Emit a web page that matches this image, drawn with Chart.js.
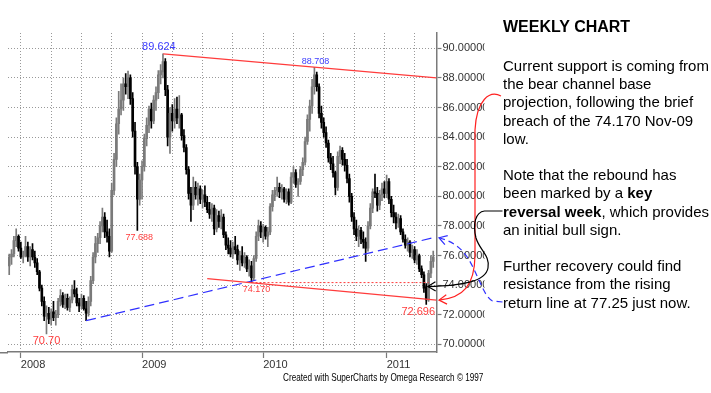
<!DOCTYPE html>
<html><head><meta charset="utf-8">
<script src="https://cdn.jsdelivr.net/npm/chart.js@4.4.1/dist/chart.umd.min.js"></script>
<style>
html,body{margin:0;padding:0;background:#fff;}
#wrap{position:relative;width:711px;height:393px;overflow:hidden;background:#fff;}
#c{position:absolute;left:0;top:0;}
#title{position:absolute;left:503px;top:18px;font:bold 16px "Liberation Sans",Arial,sans-serif;line-height:18px;color:#000;white-space:nowrap;}
#body{position:absolute;left:503px;top:57px;font:15px "Liberation Sans",Arial,sans-serif;line-height:18.2px;color:#000;white-space:nowrap;}
#credit{position:absolute;left:283px;top:371px;font:10.5px "Liberation Sans",Arial,sans-serif;line-height:12px;color:#000;white-space:nowrap;transform:scaleX(0.78);transform-origin:0 0;}
</style></head>
<body><div id="wrap">
<canvas id="c" width="711" height="393"></canvas>
<div id="title">WEEKLY CHART</div>
<div id="body">Current support is coming from<br>the bear channel base<br>projection, following the brief<br>breach of the 74.170 Nov-09<br>low.<br><br>Note that the rebound has<br>been marked by a <b>key</b><br><b>reversal week</b>, which provides<br>an initial bull sign.<br><br>Further recovery could find<br>resistance from the rising<br>return line at 77.25 just now.</div>
<div id="credit">Created with SuperCharts by Omega Research &copy; 1997</div>
</div>
<script>
// Weekly bars, index 0 = last week of Nov 2007
const opens = [
75.3,75.9,76.1,77.0,77.3,76.5,75.9,76.0,76.6,75.9,
76.4,75.9,75.5,74.9,73.8,72.9,71.9,72.1,71.7,72.2,
71.8,72.0,72.9,73.3,72.7,73.1,72.5,73.0,73.7,73.4,
72.8,72.6,73.1,72.4,72.1,72.9,74.3,75.9,76.8,77.2,
78.0,78.6,77.6,77.3,76.3,80.4,82.5,84.9,85.9,86.5,
87.6,87.4,88.0,86.6,84.4,82.0,79.8,81.1,82.0,83.9,
84.8,85.9,85.1,86.5,87.0,88.2,88.4,89.1,87.2,84.0,
85.6,85.1,85.9,85.3,85.5,84.1,83.3,81.8,80.2,79.4,
80.6,80.1,80.5,79.8,80.1,79.6,79.1,78.8,79.2,77.8,
78.7,78.3,78.6,77.4,76.7,76.5,76.1,76.6,76.4,75.7,
76.0,75.5,75.9,75.1,75.3,74.5,75.8,77.3,78.0,77.6,
77.9,77.3,77.6,79.3,80.1,80.4,80.6,80.3,80.5,79.8,
80.3,79.6,81.3,81.6,80.8,81.0,81.8,82.3,83.7,85.2,
86.1,87.4,88.2,87.4,85.6,85.0,84.3,83.6,82.6,82.2,
81.6,80.6,82.7,83.1,82.5,82.1,81.2,80.0,78.6,77.8,
77.3,77.7,77.1,76.9,76.5,78.0,79.2,80.3,80.2,79.4,
80.1,80.5,80.2,81.0,79.8,78.9,78.6,78.2,78.5,77.6,
77.1,76.7,76.9,76.2,76.4,75.7,76.0,75.1,74.7,73.9,
73.0,74.8,75.6];
const highs = [
76.1,76.4,77.3,77.8,77.4,76.9,76.3,77.3,76.9,76.6,
76.8,76.3,75.8,75.0,74.0,73.2,72.6,72.5,72.4,72.9,
72.3,73.1,73.7,73.5,73.4,73.4,73.2,74.0,74.3,73.8,
73.1,73.4,73.3,72.9,73.2,74.6,76.2,77.3,77.5,78.3,
79.2,78.9,78.4,77.8,80.9,82.9,85.3,87.1,87.6,88.0,
88.3,88.46,88.2,87.0,85.0,82.3,81.5,82.4,84.2,85.3,
86.1,86.3,86.8,87.4,88.5,88.9,89.624,89.3,87.5,86.0,
86.2,86.6,86.7,86.8,85.6,84.5,83.5,82.0,80.6,81.3,
81.0,80.9,80.7,80.4,80.7,80.0,79.6,79.5,79.4,79.1,
79.0,79.1,78.8,77.6,77.2,77.0,76.9,77.3,76.7,76.3,
76.6,76.2,76.0,75.7,75.6,76.0,77.6,78.4,78.3,78.1,
78.0,77.9,79.5,80.4,80.6,81.3,80.9,80.8,80.6,80.5,
80.5,81.6,82.0,81.8,81.2,82.0,82.6,84.0,85.5,86.5,
87.9,88.708,88.4,87.6,86.1,85.3,84.7,83.8,82.9,82.7,
81.7,83.0,83.4,83.3,82.9,82.5,81.5,80.2,78.9,78.4,
78.0,77.9,77.6,77.2,78.3,79.5,80.5,81.5,80.6,80.4,
80.9,81.0,81.44,81.2,80.0,79.4,78.9,78.8,78.7,77.8,
77.4,77.2,77.0,76.7,76.6,76.4,76.1,75.3,74.9,74.1,
75.0,76.0,76.3];
const lows = [
74.7,75.4,75.9,76.6,76.3,75.8,75.5,75.9,75.6,75.3,
75.7,75.2,74.7,73.6,72.6,71.6,70.70,71.4,71.3,71.6,
71.3,71.8,72.6,72.5,72.4,72.3,72.2,72.8,73.2,72.6,
72.2,72.4,72.3,71.6,71.9,72.6,74.1,75.5,76.2,76.8,
77.6,77.2,76.9,75.9,76.2,80.1,82.0,84.2,85.5,85.8,
86.9,86.6,86.2,84.0,81.5,77.688,79.4,79.8,81.7,83.4,
84.3,84.6,84.9,85.8,86.6,87.6,88.0,86.8,83.4,82.9,
84.4,84.6,84.9,84.6,83.8,83.0,81.5,79.8,78.3,79.1,
79.8,79.4,79.5,79.2,79.3,78.9,78.5,78.3,77.4,77.6,
77.9,77.8,77.2,76.4,76.1,75.9,75.8,76.1,75.4,75.0,
75.3,75.2,74.9,74.6,74.17,74.3,75.6,77.0,77.2,76.9,
77.1,76.6,77.4,79.0,79.7,80.0,79.9,79.8,79.6,79.5,
79.4,79.5,80.9,80.6,80.0,80.8,81.4,82.1,83.5,84.4,
85.6,86.9,87.1,85.3,84.6,84.0,83.3,82.3,81.8,81.3,
80.1,80.4,82.2,82.1,81.7,80.9,79.6,78.3,77.4,77.0,
76.6,76.8,76.5,75.6,76.3,77.8,78.9,79.9,79.0,79.1,
79.7,79.9,79.9,79.5,78.6,78.2,77.8,77.9,77.4,76.9,
76.5,76.3,75.9,75.8,75.5,75.4,74.9,74.5,73.5,72.696,
72.9,74.5,75.2];
const closes = [
75.9,76.1,77.0,77.3,76.5,75.9,76.0,76.6,75.9,76.4,
75.9,75.5,74.9,73.8,72.9,71.9,72.1,71.7,72.2,71.8,
72.0,72.9,73.3,72.7,73.1,72.5,73.0,73.7,73.4,72.8,
72.6,73.1,72.4,72.1,72.9,74.3,75.9,76.8,77.2,78.0,
78.6,77.6,77.3,76.3,80.4,82.5,84.9,85.9,86.5,87.6,
87.4,88.0,86.6,84.4,82.0,79.8,81.1,82.0,83.9,84.8,
85.9,85.1,86.5,87.0,88.2,88.5,89.1,87.2,84.0,85.6,
85.1,85.9,85.3,85.5,84.1,83.3,81.8,80.2,79.4,80.6,
80.1,80.5,79.8,80.1,79.6,79.1,78.8,79.2,77.8,78.7,
78.3,78.6,77.4,76.7,76.5,76.1,76.6,76.4,75.7,76.0,
75.5,75.9,75.1,75.3,74.5,75.8,77.3,78.0,77.6,77.9,
77.3,77.6,79.3,80.1,80.4,80.6,80.3,80.5,79.8,80.3,
79.6,81.3,81.6,80.8,81.0,81.8,82.3,83.7,85.2,86.1,
87.4,88.2,87.4,85.6,85.0,84.3,83.6,82.6,82.2,81.6,
80.6,82.7,83.1,82.5,82.1,81.2,80.0,78.6,77.8,77.3,
77.7,77.1,76.9,76.5,78.0,79.2,80.3,80.2,79.4,80.1,
80.5,80.2,81.0,79.8,78.9,78.6,78.2,78.5,77.6,77.1,
76.7,76.9,76.2,76.4,75.7,76.0,75.1,74.7,73.8,73.0,
74.8,75.6,75.9];

// Axis ticks
const priceTicks = [70,72,74,76,78,80,82,84,86,88,90];
const quarterGridIdx = [5,18,31,44,57,70,83,96,109,122,135,148,161,174];
const yearTickIdx = [5,57,109,162];
const yearTickLabels = ['2008','2009','2010','2011'];

// Trend lines [barIndex, price]
const upperChannel = [[66.1,89.624],[183.4,88.0]];
const channelBase = [[85,74.44],[183.4,72.99]];
const nov09Low = [[104,74.17],[180,74.17]];
const returnLine = [[33,71.6],[182,77.2]];

// Price labels [barIndex, price, text, colour, font px, dx, position]
const priceLabels = [
  [66.4, 89.624, '89.624', '#3c3cff', 11, -5, 'above'],
  [131.5, 88.708, '88.708', '#3c3cff', 9, 0, 'above'],
  [55, 77.688, '77.688', '#ff3c3c', 9, 2, 'below'],
  [16, 70.70, '70.70', '#ff3c3c', 11, 0, 'below'],
  [104, 74.17, '74.170', '#ff3c3c', 9, 5, 'below'],
  [179, 72.696, '72.696', '#ff3c3c', 11, -8, 'below']
];

const idx = opens.map((_, i) => i);
const up = idx.map(i => closes[i] >= opens[i]);
const wickData = idx.map(i => ({x: i, y: [lows[i], highs[i]]}));
const bodyData = idx.map(i => {
  let a = opens[i], b = closes[i];
  if (Math.abs(a - b) < 0.04) b = a + 0.04;
  return {x: i, y: [a, b]};
});
const colUp = '#7a7a7a', colDn = '#000000';
const cols = up.map(u => u ? colUp : colDn);
const toPts = arr => arr.map(p => ({x: p[0], y: p[1]}));

const annot = {
  id: 'annot',
  afterDraw(chart) {
    const {ctx, chartArea: a, scales: {x, y}} = chart;
    ctx.save();
    ctx.fillStyle = '#fff';
    ctx.fillRect(484.5, a.top - 8, 711 - 484.5, a.bottom - a.top + 16);
    ctx.strokeStyle = '#7a7a7a'; ctx.lineWidth = 1.5;
    ctx.beginPath(); ctx.moveTo(0, a.bottom + 0.75); ctx.lineTo(a.left, a.bottom + 0.75); ctx.stroke();
    priceLabels.forEach(l => {
      const px = x.getPixelForValue(l[0]) + l[5];
      const py = y.getPixelForValue(l[1]);
      ctx.font = l[4] + 'px "Liberation Sans", Arial, sans-serif';
      ctx.fillStyle = l[3];
      ctx.textAlign = 'center';
      if (l[6] === 'above') { ctx.textBaseline = 'bottom'; ctx.fillText(l[2], px, py - 1); }
      else { ctx.textBaseline = 'top'; ctx.fillText(l[2], px, py + 2); }
    });
    const R = a.right;
    function head(tx, ty, cx, cy, col) {
      const ang = Math.atan2(ty - cy, tx - cx);
      const L = 9, w = 0.55;
      ctx.setLineDash([]);
      ctx.strokeStyle = col;
      ctx.beginPath();
      ctx.moveTo(tx - L * Math.cos(ang - w), ty - L * Math.sin(ang - w));
      ctx.lineTo(tx, ty);
      ctx.lineTo(tx - L * Math.cos(ang + w), ty - L * Math.sin(ang + w));
      ctx.stroke();
    }
    ctx.lineWidth = 1.2;
    let tx = R + 2.5, ty = y.getPixelForValue(72.99);
    ctx.strokeStyle = '#ff2020';
    ctx.beginPath();
    ctx.moveTo(R + 64.5, 96);
    ctx.bezierCurveTo(R + 53, 90, R + 40, 100, R + 38.5, 130);
    ctx.lineTo(R + 38.5, 256);
    ctx.bezierCurveTo(R + 38, 285, R + 27, ty - 2, tx, ty);
    ctx.stroke();
    head(tx, ty, R + 27, ty - 2, '#ff2020');
    tx = x.getPixelForValue(179.7); ty = y.getPixelForValue(73.9);
    ctx.strokeStyle = '#000';
    ctx.beginPath();
    ctx.moveTo(R + 66, 211);
    ctx.lineTo(R + 48, 211);
    ctx.bezierCurveTo(R + 39, 212, R + 36, 224, R + 39.5, 238);
    ctx.bezierCurveTo(R + 43, 250, R + 54, 256, R + 51.5, 268);
    ctx.bezierCurveTo(R + 49, 282, R + 25, ty - 1, tx, ty);
    ctx.stroke();
    head(tx, ty, R + 25, ty - 1, '#000');
    tx = R + 2.5; ty = y.getPixelForValue(77.2);
    ctx.strokeStyle = '#3030ff';
    ctx.setLineDash([6, 4]);
    ctx.beginPath();
    ctx.moveTo(R + 66, 302);
    ctx.lineTo(R + 56, 301);
    ctx.bezierCurveTo(R + 47, 297, R + 41, 272, R + 30, 256);
    ctx.bezierCurveTo(R + 22, 245, R + 13, ty + 3, tx, ty);
    ctx.stroke();
    head(tx, ty, R + 12, ty + 3, '#3030ff');
    ctx.restore();
  }
};

new Chart(document.getElementById('c'), {
  type: 'bar',
  data: {
    datasets: [
      {type: 'line', data: toPts(upperChannel), borderColor: '#ff3c3c', borderWidth: 1.2, pointRadius: 0, order: 0},
      {type: 'line', data: toPts(channelBase), borderColor: '#ff3c3c', borderWidth: 1.2, pointRadius: 0, order: 0},
      {type: 'line', data: toPts(nov09Low), borderColor: '#ff3c3c', borderWidth: 1, borderDash: [2, 2], pointRadius: 0, order: 0},
      {type: 'line', data: toPts(returnLine), borderColor: '#3030ff', borderWidth: 1.2, borderDash: [10, 5], pointRadius: 0, order: 0},
      {type: 'bar', data: wickData, backgroundColor: cols, barThickness: 1, grouped: false, borderWidth: 0, order: 2},
      {type: 'bar', data: bodyData, backgroundColor: cols, barThickness: 2, grouped: false, borderWidth: 0, order: 1}
    ]
  },
  options: {
    responsive: false,
    animation: false,
    devicePixelRatio: 1,
    layout: {padding: {left: 8, top: 33, right: 0, bottom: 0}},
    plugins: {legend: {display: false}, tooltip: {enabled: false}},
    scales: {
      x: {
        type: 'linear', min: -0.52, max: 183.4, offset: false,
        afterBuildTicks(s) {
          const v = quarterGridIdx.concat(yearTickIdx.filter(t => !quarterGridIdx.includes(t)));
          v.sort((p, q) => p - q);
          s.ticks = v.map(t => ({value: t}));
        },
        afterFit(s) { s.height = 41; },
        ticks: {
          autoSkip: false, maxRotation: 0, align: 'start', padding: 0,
          color: '#333', font: {family: '"Liberation Sans", Arial, sans-serif', size: 11},
          callback(v) { const k = yearTickIdx.indexOf(v); return k >= 0 ? yearTickLabels[k] : ''; }
        },
        grid: {
          offset: false,
          color: c => (c.tick && !quarterGridIdx.includes(c.tick.value)) ? 'rgba(0,0,0,0)' : '#999999',
          tickColor: c => (c.tick && yearTickIdx.includes(c.tick.value)) ? '#7a7a7a' : 'rgba(0,0,0,0)',
          tickLength: 6, tickWidth: 1.2, tickBorderDash: [], lineWidth: 1
        },
        border: {display: true, color: '#7a7a7a', width: 1.5, dash: [1, 2]}
      },
      y: {
        type: 'linear', position: 'right', min: 69.48, max: 91.034,
        afterBuildTicks(s) { s.ticks = priceTicks.map(t => ({value: t})); },
        afterFit(s) { s.width = 711 - 436.5; },
        ticks: {
          padding: 1, color: '#333',
          font: {family: '"Liberation Sans", Arial, sans-serif', size: 11},
          callback(v) { return Number(v).toFixed(6); }
        },
        grid: {offset: false, color: '#999999', tickColor: '#7a7a7a', tickLength: 5, tickWidth: 1.2, tickBorderDash: [], lineWidth: 1},
        border: {display: true, color: '#7a7a7a', width: 1.5, dash: [1, 2]}
      }
    }
  },
  plugins: [annot]
});
</script>
</body></html>
